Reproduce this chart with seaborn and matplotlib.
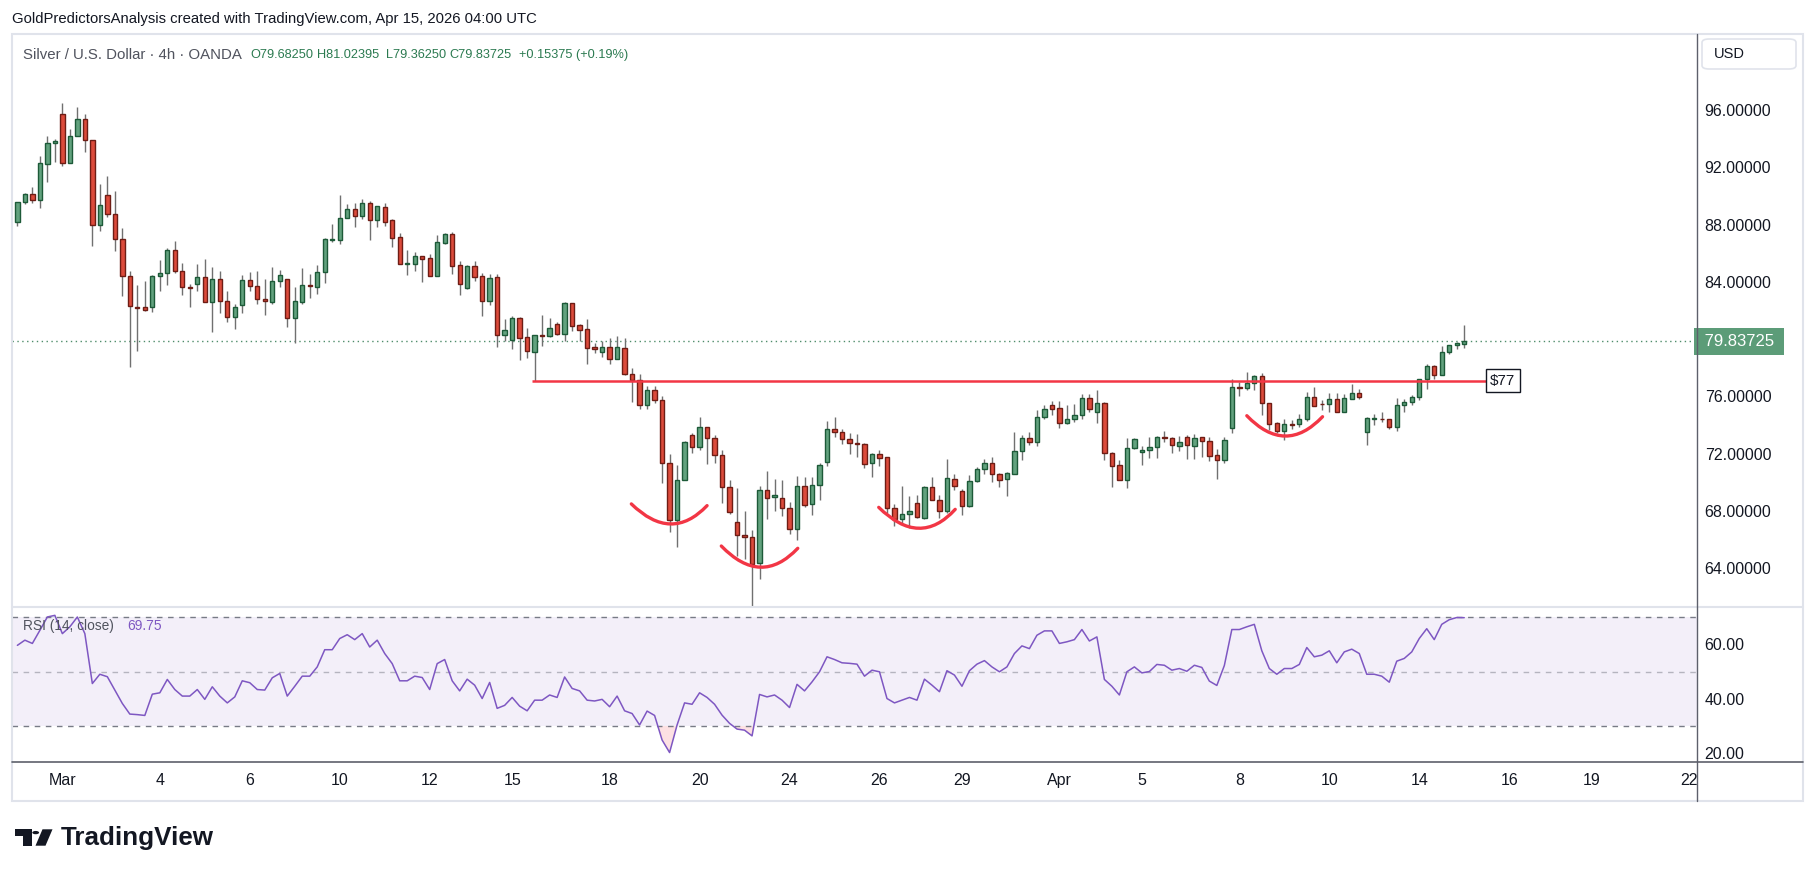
import numpy as np
import pandas as pd
import matplotlib
matplotlib.use("Agg")
import matplotlib.pyplot as plt
from matplotlib.patches import Rectangle, FancyBboxPatch, Circle, Polygon, PathPatch
from matplotlib.path import Path
from matplotlib.lines import Line2D
import matplotlib.transforms as mtransforms
import seaborn as sns

# XAG/USD 4h candles, bar 0 = first bar of "Mar"
first_bar = -6
opens = [88.16, 89.55, 90.11, 89.69, 92.21, 93.67, 95.70, 92.28, 94.16, 95.35,
         93.88, 87.95, 90.04, 88.71, 86.97, 84.38, 82.24, 82.22, 82.22, 84.38,
         84.59, 86.20, 84.73, 83.64, 83.83, 84.32, 82.57, 84.18, 82.64, 81.52,
         82.36, 84.11, 83.69, 82.78, 82.57, 84.04, 84.18, 81.45, 82.62, 83.78,
         83.66, 84.66, 86.95, 86.95, 88.44, 89.06, 88.62, 89.48, 88.34, 89.20,
         88.30, 87.11, 85.27, 85.27, 85.78, 85.64, 84.43, 86.74, 87.32, 85.15,
         83.59, 85.08, 84.39, 82.69, 84.32, 80.31, 79.96, 81.45, 80.13, 79.12,
         80.28, 80.24, 81.03, 80.38, 82.50, 80.96, 80.68, 79.43, 79.08, 79.43,
         78.59, 79.36, 77.54, 77.14, 75.38, 76.45, 75.75, 71.33, 67.35, 70.14,
         73.30, 72.49, 73.84, 73.07, 71.88, 69.70, 67.21, 66.30, 66.16, 64.39,
         69.44, 68.95, 68.88, 68.18, 66.72, 69.72, 68.46, 69.79, 71.44, 73.70,
         73.49, 73.05, 72.74, 72.65, 71.37, 71.96, 71.75, 68.18, 67.42, 67.77,
         68.53, 67.53, 69.65, 68.74, 67.97, 70.21, 69.37, 68.32, 70.07, 70.91,
         71.33, 70.56, 70.26, 70.61, 72.16, 73.07, 72.84, 74.54, 75.38, 75.17,
         74.17, 74.40, 74.68, 75.87, 74.93, 75.52, 72.03, 71.19, 70.14, 72.37,
         72.09, 72.23, 72.44, 73.16, 73.07, 72.56, 73.14, 72.56, 73.14, 72.86,
         71.88, 71.54, 73.77, 76.65, 76.61, 76.91, 77.40, 75.52, 74.12, 73.56,
         74.07, 74.05, 74.40, 75.94, 75.49, 75.45, 75.80, 74.89, 75.84, 76.21,
         73.54, 74.45, 74.44, 74.40, 73.89, 75.38, 75.59, 75.94, 77.19, 78.10,
         77.47, 79.08, 79.57, 79.68]
highs = [89.60, 90.18, 90.62, 92.79, 94.18, 93.97, 96.49, 94.65, 96.21, 95.72,
         93.88, 90.83, 91.37, 90.34, 87.76, 84.76, 83.78, 84.06, 84.48, 85.53,
         86.36, 86.85, 85.32, 83.83, 85.25, 85.60, 85.04, 84.76, 83.36, 82.45,
         84.45, 84.69, 84.76, 84.20, 85.04, 84.83, 84.18, 83.64, 84.97, 84.55,
         85.18, 87.04, 88.04, 90.06, 89.44, 89.51, 89.79, 89.65, 89.27, 89.51,
         88.37, 87.41, 86.22, 86.08, 85.78, 85.94, 87.27, 87.43, 87.50, 85.46,
         85.18, 85.46, 84.59, 84.52, 84.52, 81.41, 81.62, 81.52, 80.78, 80.27,
         81.69, 81.48, 81.20, 82.57, 82.50, 81.06, 81.41, 79.75, 79.87, 80.05,
         80.22, 80.05, 77.96, 77.54, 76.73, 76.73, 76.03, 71.98, 71.21, 72.86,
         73.47, 74.56, 73.84, 73.28, 72.26, 70.16, 69.60, 68.00, 66.67, 69.74,
         70.79, 70.23, 70.16, 68.63, 70.44, 70.37, 70.37, 71.33, 74.28, 74.56,
         73.72, 73.42, 73.37, 72.72, 72.02, 72.26, 71.75, 68.46, 69.74, 69.05,
         69.09, 69.72, 70.37, 69.09, 71.63, 70.58, 69.51, 70.49, 71.05, 71.61,
         71.75, 70.67, 70.70, 73.54, 73.31, 73.51, 75.03, 75.38, 75.66, 75.66,
         75.40, 75.47, 76.15, 76.17, 76.45, 75.61, 72.09, 71.56, 73.07, 73.07,
         72.54, 73.17, 73.24, 73.58, 73.14, 73.23, 73.30, 73.37, 73.14, 73.14,
         72.30, 73.14, 77.19, 76.98, 77.70, 77.47, 77.61, 75.52, 74.19, 74.40,
         74.35, 74.75, 76.33, 76.66, 75.75, 76.21, 76.21, 76.17, 76.84, 76.52,
         74.54, 74.77, 74.91, 74.40, 75.89, 75.80, 76.10, 77.19, 78.24, 78.17,
         79.52, 79.59, 79.80, 81.02]
lows = [87.92, 89.41, 89.53, 89.18, 91.00, 92.39, 92.11, 92.28, 94.16, 93.09,
        86.53, 87.57, 88.50, 86.18, 83.03, 78.03, 79.19, 81.94, 81.92, 83.38,
        83.80, 84.64, 83.10, 82.27, 83.38, 82.57, 80.52, 81.80, 81.22, 80.68,
        81.85, 83.38, 82.48, 81.71, 82.48, 83.66, 80.87, 79.71, 82.48, 82.90,
        83.15, 83.94, 86.81, 86.67, 88.44, 87.85, 88.41, 86.92, 87.85, 87.90,
        86.43, 85.27, 84.48, 84.76, 83.99, 84.43, 84.43, 86.67, 84.55, 83.08,
        83.52, 84.08, 81.62, 82.38, 79.45, 79.87, 79.31, 78.54, 78.68, 77.10,
        79.52, 80.17, 80.27, 79.87, 80.59, 79.87, 78.29, 79.00, 78.77, 78.24,
        78.59, 77.49, 75.63, 75.10, 75.10, 75.56, 69.98, 66.55, 65.51, 70.14,
        72.07, 72.28, 71.26, 71.33, 68.53, 67.76, 64.88, 64.65, 61.32, 63.27,
        67.41, 68.02, 67.67, 66.39, 65.97, 68.30, 67.74, 68.77, 71.14, 73.19,
        72.68, 71.98, 71.79, 70.98, 70.39, 71.16, 67.83, 66.95, 67.07, 66.79,
        67.49, 67.46, 68.74, 67.53, 67.83, 69.46, 67.72, 68.25, 70.02, 70.61,
        70.02, 69.70, 69.07, 70.61, 71.56, 72.58, 72.56, 74.45, 74.73, 73.82,
        74.07, 74.24, 74.45, 74.91, 74.17, 71.58, 69.70, 70.14, 69.63, 72.30,
        71.23, 71.72, 71.72, 72.84, 72.07, 72.21, 71.65, 71.61, 71.79, 71.51,
        70.21, 71.33, 73.42, 76.05, 76.47, 76.47, 74.68, 73.65, 73.47, 72.93,
        73.70, 73.84, 74.26, 75.31, 75.03, 74.93, 74.89, 74.89, 75.80, 75.84,
        72.63, 74.03, 74.24, 73.70, 73.58, 74.91, 75.42, 75.75, 76.52, 77.24,
        77.47, 78.98, 79.33, 79.36]
closes = [89.55, 90.11, 89.69, 92.28, 93.67, 93.81, 92.28, 94.16, 95.35, 93.88,
          87.95, 89.34, 88.71, 86.97, 84.38, 82.29, 82.20, 82.01, 84.38, 84.59,
          86.20, 84.73, 83.62, 83.60, 84.32, 82.57, 84.18, 82.64, 81.52, 82.22,
          84.11, 83.69, 82.78, 82.64, 84.04, 84.45, 81.45, 82.64, 83.76, 83.74,
          84.66, 86.97, 86.99, 88.44, 89.06, 88.62, 89.48, 88.34, 89.27, 88.20,
          87.09, 85.27, 85.31, 85.78, 85.62, 84.43, 86.76, 87.32, 85.13, 83.87,
          85.08, 84.36, 82.69, 84.25, 80.31, 80.61, 81.45, 80.10, 79.19, 80.27,
          80.24, 80.75, 80.38, 82.50, 80.94, 80.66, 79.40, 79.29, 79.43, 78.59,
          79.43, 77.54, 77.14, 75.40, 76.45, 75.75, 71.33, 67.35, 70.14, 72.82,
          72.49, 73.84, 73.07, 71.88, 69.70, 67.90, 66.30, 66.16, 64.32, 69.44,
          68.88, 69.09, 68.18, 66.72, 69.72, 68.44, 69.79, 71.19, 73.70, 73.49,
          73.05, 72.72, 72.70, 71.26, 71.98, 71.72, 68.18, 67.42, 67.77, 67.97,
          67.56, 69.65, 68.74, 67.97, 70.28, 69.72, 68.32, 70.07, 70.91, 71.33,
          70.56, 70.14, 70.63, 72.16, 73.07, 72.84, 74.54, 75.10, 75.14, 74.17,
          74.40, 74.68, 75.87, 75.10, 75.52, 72.03, 71.16, 70.14, 72.37, 73.00,
          72.23, 72.44, 73.14, 73.12, 72.58, 72.79, 72.58, 73.07, 72.86, 71.86,
          71.54, 72.93, 76.63, 76.61, 76.91, 77.40, 75.52, 74.05, 73.56, 74.05,
          74.03, 74.40, 75.94, 75.31, 75.45, 75.80, 74.89, 75.86, 76.21, 75.94,
          74.47, 74.49, 74.40, 73.89, 75.38, 75.59, 75.94, 77.19, 78.10, 77.47,
          79.08, 79.59, 79.70, 79.84]
rsi = [59.6, 61.5, 60.3, 65.1, 70.0, 70.6, 63.9, 66.4, 70.0, 63.9,
       45.6, 49.0, 48.1, 43.2, 38.3, 34.4, 34.2, 33.9, 41.7, 42.2,
       47.1, 43.4, 41.0, 41.0, 43.4, 39.8, 44.4, 41.0, 38.5, 40.7,
       46.6, 45.9, 43.4, 43.2, 47.7, 49.3, 41.0, 44.6, 48.3, 48.3,
       51.7, 58.0, 58.0, 62.1, 63.5, 61.7, 63.9, 59.0, 61.5, 56.6,
       52.9, 46.6, 46.6, 48.3, 47.8, 43.4, 52.9, 54.4, 46.6, 42.9,
       47.2, 45.0, 40.1, 46.0, 36.5, 37.6, 40.5, 37.3, 35.6, 39.5,
       39.5, 41.4, 40.5, 48.0, 43.8, 42.9, 39.5, 39.2, 39.8, 37.1,
       41.0, 35.6, 34.6, 30.4, 35.5, 33.9, 24.9, 20.3, 30.4, 38.5,
       38.0, 42.2, 40.5, 38.0, 34.0, 31.0, 28.9, 28.5, 26.4, 41.6,
       40.7, 41.4, 39.5, 36.8, 45.3, 42.9, 46.2, 49.9, 55.4, 54.4,
       53.2, 53.0, 52.7, 48.3, 50.5, 49.9, 40.1, 38.5, 39.5, 40.5,
       39.5, 47.2, 45.0, 42.6, 50.3, 48.7, 44.6, 50.3, 52.7, 54.0,
       51.7, 49.9, 51.7, 56.6, 59.4, 58.4, 63.3, 64.9, 64.9, 60.3,
       60.9, 61.7, 65.4, 61.2, 62.7, 47.1, 44.6, 41.4, 49.9, 51.7,
       49.5, 50.0, 52.6, 52.3, 50.5, 51.1, 50.1, 52.3, 51.5, 46.5,
       44.9, 52.2, 65.4, 65.4, 66.4, 67.3, 57.6, 51.1, 49.0, 51.1,
       51.1, 52.6, 58.8, 55.4, 56.0, 57.6, 53.2, 57.2, 58.2, 56.6,
       49.0, 49.0, 48.3, 46.1, 53.8, 54.8, 57.2, 62.1, 65.7, 61.7,
       67.3, 69.0, 69.8, 69.75]

date_ticks = [0, 13, 25, 37, 49, 60, 73, 85, 97, 109, 120, 133, 144, 157, 169, 181, 193, 204, 217]
date_labels = ["Mar", "4", "6", "10", "12", "15", "18", "20", "24", "26", "29",
               "Apr", "5", "8", "10", "14", "16", "19", "22"]
price_ticks = [64, 68, 72, 76, 84, 88, 92, 96]
rsi_ticks = [20, 40, 60]

last_price = 79.83725
support = 77.10
support_from, support_to = 62.7, 189.9
# hand drawn "cup" arcs: (start bar, start price, low bar, low price, end bar, end price)
arcs = [(75.9, 68.49, 81.1, 67.09, 86.0, 68.37),
        (87.9, 65.55, 93.1, 64.07, 98.1, 65.39),
        (108.9, 68.25, 114.2, 66.79, 119.1, 68.11),
        (158.0, 74.65, 163.1, 73.23, 168.1, 74.58)]

UP_FILL, UP_EDGE = "#62a27e", "#1d5a38"
DN_FILL, DN_EDGE = "#dc4b3b", "#6e1d15"
TV_RED = "#F23645"
RSI_COL = "#7E57C2"
TXT = "#131722"

sns.set_theme(style="white")
plt.rcParams["font.family"] = ["Liberation Sans", "DejaVu Sans"]

W, H = 1815, 877
def fx(px):
    return px / W
def fy(py):
    return 1 - py / H

L, R = 12.5, 1697
TOP, MID, BOT = 35, 607, 762.3
XLIM = (-6.65, 218.05)

fig = plt.figure(figsize=(W / 100, H / 100), dpi=100)
fig.patch.set_facecolor("white")
ax = fig.add_axes([fx(L), fy(MID), fx(R) - fx(L), fy(TOP) - fy(MID)])
ax_rsi = fig.add_axes([fx(L), fy(BOT), fx(R) - fx(L), fy(MID) - fy(BOT)])

bars = np.arange(first_bar, first_bar + len(closes))
df = pd.DataFrame(dict(bar=bars, open=opens, high=highs, low=lows, close=closes, rsi=rsi))
up = (df.close >= df.open).values

# candles
ax.vlines(df.bar, df.low, df.high, color="#707070", lw=1, zorder=2)
body = (df.close - df.open).abs().clip(lower=0.05)
ax.bar(df.bar, body, bottom=df[["open", "close"]].min(axis=1), width=0.58,
       color=np.where(up, UP_FILL, DN_FILL), edgecolor=np.where(up, UP_EDGE, DN_EDGE),
       linewidth=1, zorder=3)

ax.axhline(last_price, color="#4f8d6b", lw=1, ls=(0, (1, 2.5)), zorder=1)
ax.hlines(support, support_from, support_to, color=TV_RED, lw=1.8, zorder=4)
ax.text(support_to + 0.55, support, "$77", ha="left", va="center", fontsize=11, color=TXT,
        bbox=dict(boxstyle="square,pad=0.28", fc="white", ec=TXT, lw=1), zorder=5)

for x0, y0, xm, ym, x1, y1 in arcs:
    cx, cy = 2 * xm - (x0 + x1) / 2, 2 * ym - (y0 + y1) / 2
    p = Path([(x0, y0), (cx, cy), (x1, y1)], [Path.MOVETO, Path.CURVE3, Path.CURVE3])
    ax.add_patch(PathPatch(p, fc="none", ec=TV_RED, lw=2.4, capstyle="round", zorder=6))

ax.set_xlim(*XLIM)
ax.set_ylim(61.29, 101.24)
ax.yaxis.tick_right()
ax.set_yticks(price_ticks)
ax.set_yticklabels([f"{v:.5f}" for v in price_ticks])
ax.tick_params(axis="y", length=0, pad=5.5, labelsize=11.5, labelcolor=TXT)
ax.set_xticks([])
for s in ax.spines.values():
    s.set_visible(False)

# last price tag on the price scale
tr = mtransforms.blended_transform_factory(ax.transAxes, ax.transData)
ax.text(1.0015, last_price, " 79.83725 ", transform=tr, ha="left", va="center",
        fontsize=12, color="white", clip_on=False,
        bbox=dict(boxstyle="square,pad=0.35", fc="#5c9c78", ec="none"))

# RSI pane
ax_rsi.axhspan(30, 70, color=RSI_COL, alpha=0.09, lw=0)
for lvl, a in [(70, 1.0), (50, 0.5), (30, 1.0)]:
    ax_rsi.axhline(lvl, color="#787B86", alpha=a, lw=1, ls=(0, (4, 4)))
ax_rsi.fill_between(df.bar, df.rsi, 30, where=df.rsi < 30, interpolate=True, color=TV_RED, alpha=0.15, lw=0)
ax_rsi.fill_between(df.bar, df.rsi, 70, where=df.rsi > 70, interpolate=True, color="#089981", alpha=0.15, lw=0)
sns.lineplot(data=df, x="bar", y="rsi", ax=ax_rsi, color=RSI_COL, lw=1.1)
ax_rsi.set_xlim(*XLIM)
ax_rsi.set_ylim(16.72, 73.66)
ax_rsi.set_xlabel("")
ax_rsi.set_ylabel("")
ax_rsi.yaxis.tick_right()
ax_rsi.set_yticks(rsi_ticks)
ax_rsi.set_yticklabels([f"{v:.2f}" for v in rsi_ticks])
ax_rsi.set_xticks(date_ticks)
ax_rsi.set_xticklabels(date_labels)
ax_rsi.tick_params(axis="y", length=0, pad=5.5, labelsize=11.5, labelcolor=TXT)
ax_rsi.tick_params(axis="x", length=0, pad=8, labelsize=11.5, labelcolor=TXT)
for s in ax_rsi.spines.values():
    s.set_visible(False)

# frame and pane separators
fig.add_artist(Rectangle((fx(12), fy(801)), fx(1803) - fx(12), fy(34) - fy(801),
                         transform=fig.transFigure, fill=False, ec="#E0E3EB", lw=1.5))
fig.add_artist(Line2D([fx(12), fx(1803)], [fy(MID), fy(MID)], transform=fig.transFigure, color="#E0E3EB", lw=1.5))
fig.add_artist(Line2D([fx(12), fx(1803)], [fy(BOT), fy(BOT)], transform=fig.transFigure, color="#5d606b", lw=1.2))
fig.add_artist(Line2D([fx(R), fx(R)], [fy(34), fy(801)], transform=fig.transFigure, color="#5d606b", lw=1))

# texts
fig.text(fx(12), fy(18.5), "GoldPredictorsAnalysis created with TradingView.com, Apr 15, 2026 04:00 UTC",
         va="center", ha="left", fontsize=10.75, color=TXT)
fig.text(fx(23), fy(55), "Silver / U.S. Dollar \u00b7 4h \u00b7 OANDA", va="center", ha="left",
         fontsize=10.8, color="#50535e")
for xp, s in [(250.6, "O79.68250"), (317.5, "H81.02395"), (386.3, "L79.36250"),
              (449.8, "C79.83725"), (518.7, "+0.15375 (+0.19%)")]:
    fig.text(fx(xp), fy(55), s, va="center", ha="left", fontsize=9.2, color="#2b7a50")
fig.text(fx(23), fy(626), "RSI (14, close)", va="center", ha="left", fontsize=9.9, color="#50535e")
fig.text(fx(127.4), fy(626), "69.75", va="center", ha="left", fontsize=9.9, color=RSI_COL)

fig.add_artist(FancyBboxPatch((fx(1702), fy(69)), fx(1796) - fx(1702), fy(39) - fy(69),
                              boxstyle="round,pad=0,rounding_size=0.004", transform=fig.transFigure,
                              fc="white", ec="#E0E3EB", lw=1.2))
fig.text(fx(1714), fy(54), "USD", va="center", ha="left", fontsize=10.5, color=TXT)

# TradingView logo
logo = [Polygon([(fx(15), fy(829.3)), (fx(31.7), fy(829.3)), (fx(31.7), fy(845.7)),
                 (fx(23.3), fy(845.7)), (fx(23.3), fy(835.5)), (fx(15), fy(835.5))], closed=True),
        Polygon([(fx(42.5), fy(829.3)), (fx(52.5), fy(829.3)), (fx(45.5), fy(845.7)),
                 (fx(35.5), fy(845.7))], closed=True)]
for p in logo:
    p.set_transform(fig.transFigure)
    p.set_facecolor(TXT)
    p.set_edgecolor("none")
    fig.add_artist(p)
dot = Circle((fx(35.7), fy(832.6)), radius=3.4 / W, transform=fig.transFigure, fc=TXT, ec="none")
fig.add_artist(dot)
fig.text(fx(61), fy(838), "TradingView", va="center", ha="left", fontsize=18.7,
         fontweight="bold", color=TXT)

fig.savefig("out.png", dpi=100, facecolor="white")
